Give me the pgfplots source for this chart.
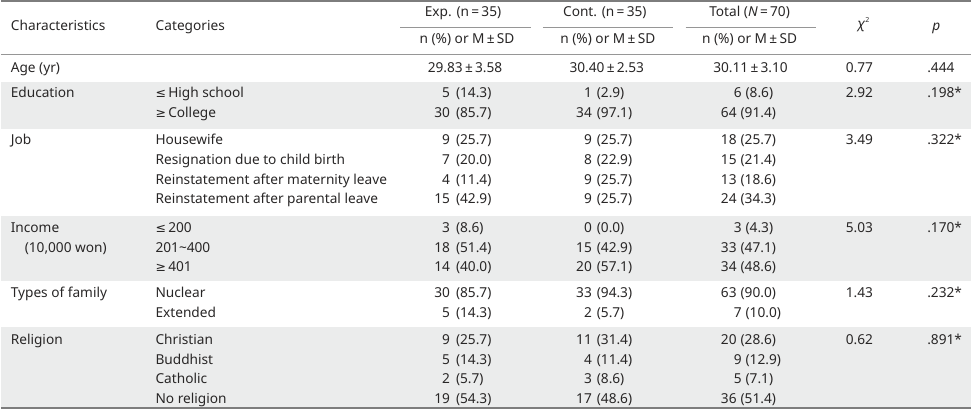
\documentclass[border=0pt]{standalone}
\usepackage{fontspec}
\setmainfont{Noto Sans}
\newfontfamily\sym{DejaVu Sans}
\usepackage{pgfplots}
\usepackage{pgfplotstable}
\pgfplotsset{compat=1.18}
\definecolor{txt}{RGB}{40,38,38}
\definecolor{band}{RGB}{235,236,236}
\definecolor{rulec}{RGB}{125,125,125}
\definecolor{rulel}{RGB}{150,150,150}
\newcommand\tf{\fontsize{13.7}{16}\selectfont}
\newcommand\symle{{\sym\fontsize{12.5}{14}\selectfont ≤}}
\newcommand\symge{{\sym\fontsize{12.5}{14}\selectfont ≥}}

% left text columns: x, y, text
\pgfplotstableread[col sep=semicolon]{
x;y;t
10;72;Age (yr)
10;97;Education
10;144;Job
10;232;Income
24;252;(10,000 won)
10;297;Types of family
10;344;Religion
155;97;\symle\,High school
155;117;\symge\,College
155;144;Housewife
155;164;Resignation due to child birth
155;184;Reinstatement after maternity leave
155;203;Reinstatement after parental leave
155;232;\symle\,200
155;252;201\textasciitilde 400
155;271;\symge\,401
155;297;Nuclear
155;317;Extended
155;344;Christian
155;364;Buddhist
155;383;Catholic
155;403;No religion
}\lefttab

% Exp. group: n and (%)
\pgfplotstableread[col sep=semicolon]{
y;xc;n;xp;p
97;450;5;456;(14.3)
117;450;30;456;(85.7)
144;450;9;456;(25.7)
164;450;7;456;(20.0)
184;450;4;456;(11.4)
203;450;15;456;(42.9)
232;450;3;456;(8.6)
252;450;18;456;(51.4)
271;450;14;456;(40.0)
297;450;30;456;(85.7)
317;450;5;456;(14.3)
344;450;9;456;(25.7)
364;450;5;456;(14.3)
383;450;2;456;(5.7)
403;450;19;456;(54.3)
}\exptab

% Cont. group
\pgfplotstableread[col sep=semicolon]{
y;xc;n;xp;p
97;592;1;597;(2.9)
117;592;34;597;(97.1)
144;592;9;597;(25.7)
164;592;8;597;(22.9)
184;592;9;597;(25.7)
203;592;9;597;(25.7)
232;592;0;597;(0.0)
252;592;15;597;(42.9)
271;592;20;597;(57.1)
297;592;33;597;(94.3)
317;592;2;597;(5.7)
344;592;11;597;(31.4)
364;592;4;597;(11.4)
383;592;3;597;(8.6)
403;592;17;597;(48.6)
}\conttab

% Total
\pgfplotstableread[col sep=semicolon]{
y;xc;n;xp;p
97;742;6;746;(8.6)
117;737;64;741;(91.4)
144;737;18;741;(25.7)
164;737;15;741;(21.4)
184;737;13;741;(18.6)
203;737;24;741;(34.3)
232;742;3;746;(4.3)
252;737;33;741;(47.1)
271;737;34;741;(48.6)
297;737;63;741;(90.0)
317;742;7;746;(10.0)
344;737;20;741;(28.6)
364;742;9;746;(12.9)
383;742;5;746;(7.1)
403;737;36;741;(51.4)
}\tottab

% Age row (M ± SD)
\pgfplotstableread[col sep=semicolon]{
x;y;t
465;72;29.83\,±\,3.58
607;72;30.40\,±\,2.53
751;72;30.11\,±\,3.10
}\agetab

% test statistics
\pgfplotstableread[col sep=semicolon]{
y;chi;p
72;0.77;.444
97;2.92;.198*
144;3.49;.322*
232;5.03;.170*
297;1.43;.232*
344;0.62;.891*
}\stattab

\pgfplotsset{
  cell/.style={draw=none, mark=none, forget plot,
    nodes near coords, point meta=explicit symbolic,
    every node near coord/.append style={anchor=#1, inner sep=0pt, outer sep=0pt, font=\tf, text=txt}},
}

\begin{document}
\begin{tikzpicture}
\begin{axis}[
  scale only axis, width=972pt, height=418pt,
  xmin=0, xmax=972, ymin=0, ymax=418, y dir=reverse,
  hide axis, clip=false,
]
% row bands
\fill[band] (axis cs:0,84) rectangle (axis cs:972,131);
\fill[band] (axis cs:0,218) rectangle (axis cs:972,283);
\fill[band] (axis cs:0,329) rectangle (axis cs:972,410);
% rules
\draw[rulec, line width=1.6pt] (axis cs:0,2.5) -- (axis cs:972,2.5);
\draw[rulel, line width=1pt] (axis cs:0,56.5) -- (axis cs:972,56.5);
\draw[rulel, line width=0.9pt] (axis cs:400,29.5) -- (axis cs:531,29.5);
\draw[rulel, line width=0.9pt] (axis cs:543,29.5) -- (axis cs:673,29.5);
\draw[rulel, line width=0.9pt] (axis cs:686,29.5) -- (axis cs:817,29.5);
\draw[rulec, line width=1.4pt] (axis cs:0,410.5) -- (axis cs:972,410.5);
% header
\begin{scope}[every node/.style={font=\tf, text=txt, inner sep=0pt}]
\node[anchor=mid west] at (axis cs:10,30) {Characteristics};
\node[anchor=mid west] at (axis cs:155,30) {Categories};
\node[anchor=mid] at (axis cs:463,16) {Exp. (n\,=\,35)};
\node[anchor=mid] at (axis cs:605,16) {Cont. (n\,=\,35)};
\node[anchor=mid] at (axis cs:750,16) {Total (\textit{N}\,=\,70)};
\node[anchor=mid] at (axis cs:467,43) {n (\%) or M\,±\,SD};
\node[anchor=mid] at (axis cs:608,43) {n (\%) or M\,±\,SD};
\node[anchor=mid] at (axis cs:750,43) {n (\%) or M\,±\,SD};
\node[anchor=mid] at (axis cs:864,28) {\textit{χ}\raisebox{0.9ex}{\fontsize{7}{8}\selectfont 2}};
\node[anchor=mid] at (axis cs:937,30) {\textit{p}};
\end{scope}
% body
\addplot[cell=mid west] table[x=x, y=y, meta=t] {\lefttab};
\addplot[cell=mid east] table[x=xc, y=y, meta=n] {\exptab};
\addplot[cell=mid west] table[x=xp, y=y, meta=p] {\exptab};
\addplot[cell=mid east] table[x=xc, y=y, meta=n] {\conttab};
\addplot[cell=mid west] table[x=xp, y=y, meta=p] {\conttab};
\addplot[cell=mid east] table[x=xc, y=y, meta=n] {\tottab};
\addplot[cell=mid west] table[x=xp, y=y, meta=p] {\tottab};
\addplot[cell=mid] table[x=x, y=y, meta=t] {\agetab};
\addplot[cell=mid] table[x expr=860, y=y, meta=chi] {\stattab};
\addplot[cell=mid west] table[x expr=928, y=y, meta=p] {\stattab};
\end{axis}
\end{tikzpicture}
\end{document}
